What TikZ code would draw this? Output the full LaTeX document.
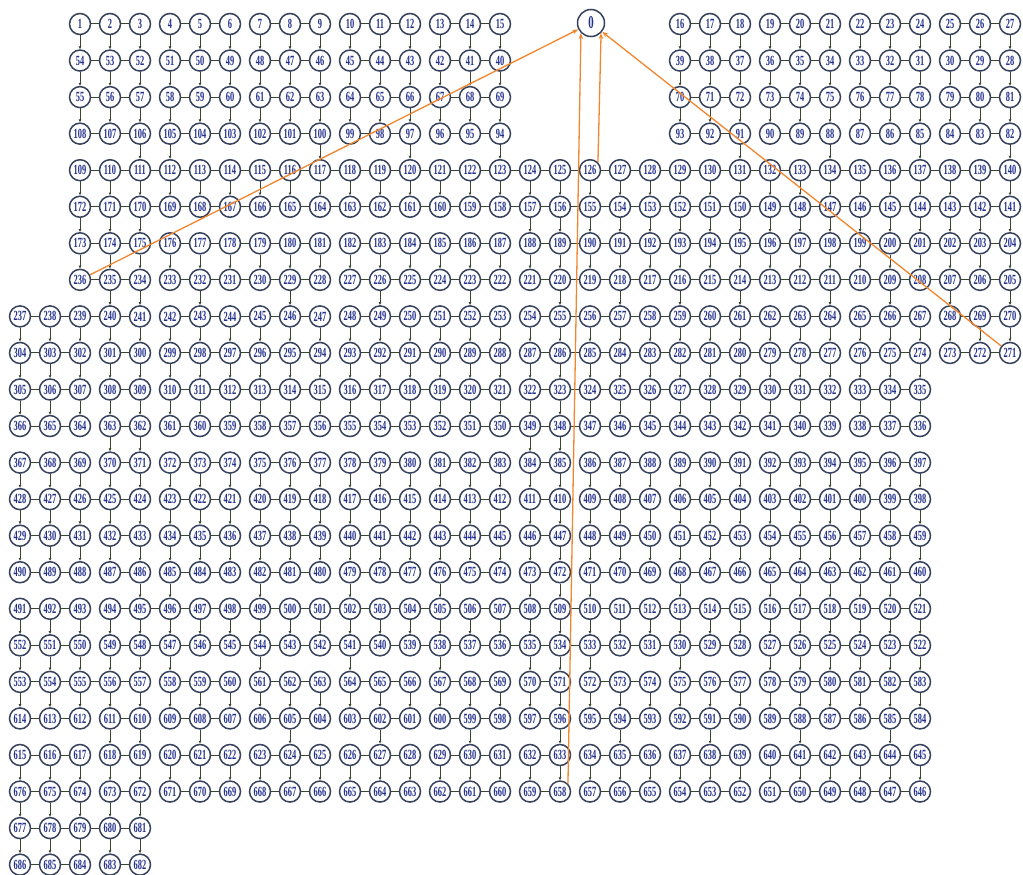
\documentclass[tikz,border=0pt]{standalone}
\usepackage{fontspec}
\newfontfamily\numfont[FakeStretch=0.6]{Liberation Serif}
\usepackage{tikz}
\usetikzlibrary{arrows.meta}
\definecolor{numblue}{HTML}{22308A}
\definecolor{ringgray}{HTML}{36415C}
\definecolor{edgegreen}{HTML}{3A4530}
\definecolor{linkorange}{HTML}{F2862E}
% runs of links: rows, then from/to columns
\newcommand\hruns[2]{\foreach \j in {#1} \foreach \a/\b in {#2} {
  \pgfmathtruncatemacro\bb{\b-1}
  \foreach \c in {\a,...,\bb} {
    \pgfmathtruncatemacro\cn{\c+1}
    \draw[hedge] (g-\j-\c) -- (g-\j-\cn);}}}
\newcommand\vruns[2]{\foreach \j in {#1} \foreach \a/\b in {#2} {
  \pgfmathtruncatemacro\jn{\j+1}
  \foreach \c in {\a,...,\b} \draw[vedge] (g-\j-\c) -- (g-\jn-\c);}}

\begin{document}
\begin{tikzpicture}[x=1pt,y=-1pt,
  vtx/.style={circle,draw=ringgray,line width=1.5pt,fill=white,minimum size=21pt,inner sep=0pt,
    text=numblue,font=\numfont\bfseries\fontsize{14}{14}\selectfont},
  hedge/.style={edgegreen,line width=1pt},
  vedge/.style={edgegreen,line width=1pt,-{Latex[length=3pt,width=3pt]}},
  link/.style={linkorange,line width=1.3pt,-{Stealth[length=6pt,width=4.5pt]}}]
\useasboundingbox (0,0) rectangle (1023,875);
% numbered grid, snaking row by row
\foreach \j/\ca/\cb/\na/\dir in {0/2/16/1/1, 0/22/33/16/1, 1/2/16/54/-1, 1/22/33/39/-1,
    2/2/16/55/1, 2/22/33/70/1, 3/2/16/108/-1, 3/22/33/93/-1, 4/2/33/109/1, 5/2/33/172/-1,
    6/2/33/173/1, 7/2/33/236/-1, 8/0/33/237/1, 9/0/33/304/-1, 10/0/30/305/1, 11/0/30/366/-1,
    12/0/30/367/1, 13/0/30/428/-1, 14/0/30/429/1, 15/0/30/490/-1, 16/0/30/491/1, 17/0/30/552/-1,
    18/0/30/553/1, 19/0/30/614/-1, 20/0/30/615/1, 21/0/30/676/-1, 22/0/4/677/1, 23/0/4/686/-1}
  \foreach \c in {\ca,...,\cb} {
    \pgfmathtruncatemacro\num{\na+\dir*(\c-\ca)}
    \node[vtx] (g-\j-\c) at ({20+30*\c},{24+36.55*\j}) {\num};
  }
\node[vtx,minimum size=27pt,font=\numfont\bfseries\fontsize{18}{18}\selectfont] (root) at (591,23) {0};
% links inside rows
\hruns{0,1,2,3}{2/4,5/7,8/10,11/13,14/16,22/24,25/27,28/30,31/33}
\hruns{4,5}{2/33}
\hruns{6,7}{2/4,5/10,11/16,17/33}
\hruns{8}{0/4,5/10,11/16,17/27,28/30,31/33}
\hruns{9}{0/2,3/4,5/10,11/16,17/27,28/30,31/33}
\hruns{10}{0/2,3/4,5/10,11/16,17/27,28/30}
\hruns{11}{0/2,3/4,5/27,28/30}
\hruns{12,14,15,19,20,21}{0/2,3/4,5/7,8/10,11/13,14/16,17/18,19/21,22/24,25/30}
\hruns{13,18}{0/4,5/7,8/10,11/13,14/16,17/18,19/21,22/24,25/30}
\hruns{16,17}{0/2,3/24,25/30}
\hruns{22}{0/4}
\hruns{23}{0/2,3/4}
% links down to the next row
\vruns{0,1,2}{2/16,22/33}
\vruns{3}{4/5,10/10,13/13,16/16,24/24,27/27,30/30,33/33}
\vruns{4,6}{2/33}
\vruns{5}{2/4,17/33}
\vruns{7}{3/4,6/6,9/9,12/12,15/15,18/18,20/20,22/22,24/24,27/27,29/29,31/31,33/33}
\vruns{8}{0/33}
\vruns{9,10,12,13,14,16,18,20}{0/30}
\vruns{11}{3/4,17/18}
\vruns{15}{4/5,8/8,11/11,14/14,17/19,22/22,25/30}
\vruns{17}{0/5,8/8,11/11,14/14,17/19,22/22,25/30}
\vruns{19}{3/4,6/6,9/9,12/12,15/15,18/18,20/20,23/23,26/26,29/29}
\vruns{21,22}{0/4}
% exits to node 0
\draw[link] (g-7-2) -- (root);
\draw[link] (g-4-19.north east) -- (root.south east);
\draw[link] (g-21-18.north east) -- (root.south west);
\draw[link] (g-9-33) -- (root);
\end{tikzpicture}
\end{document}
